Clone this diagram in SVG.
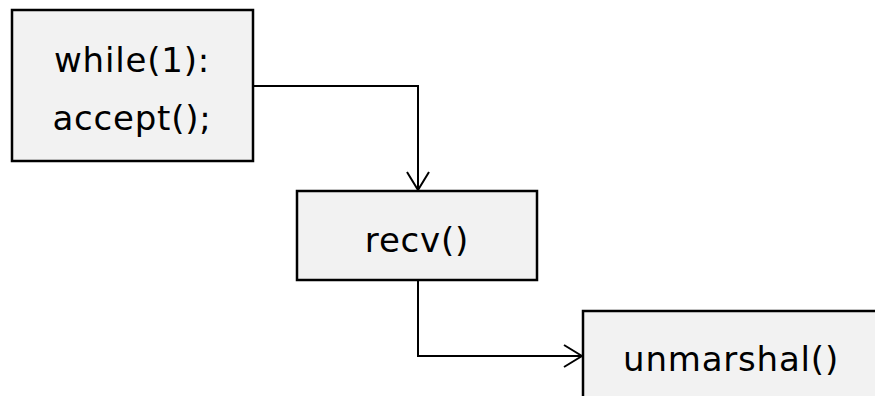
<svg xmlns="http://www.w3.org/2000/svg" width="875" height="396" viewBox="0 0 875 396">
  <defs>
    <style>
      .box { fill: #f2f2f2; stroke: #000; stroke-width: 2.5; }
      .lbl { font-family: "DejaVu Sans", "Liberation Sans", sans-serif; font-size: 34px; fill: #000; text-anchor: middle; letter-spacing: 0.8px; }
      .conn { fill: none; stroke: #000; stroke-width: 2; }
    </style>
    <marker id="arrow" viewBox="0 0 20 24" refX="19" refY="12" markerWidth="20" markerHeight="24" markerUnits="userSpaceOnUse" orient="auto">
      <path d="M1,1 L19,12 L1,23" fill="none" stroke="#000" stroke-width="2"/>
    </marker>
  </defs>
  <rect width="875" height="396" fill="#fff"/>
  <g id="connectors">
    <path class="conn" d="M253,86 H418 V190" marker-end="url(#arrow)"/>
    <path class="conn" d="M418,280 V356 H582" marker-end="url(#arrow)"/>
  </g>
  <g id="node-loop">
    <rect class="box" x="12" y="10" width="241" height="151"/>
    <text class="lbl" x="132" y="72">while(1):</text>
    <text class="lbl" x="132" y="130">accept();</text>
  </g>
  <g id="node-recv">
    <rect class="box" x="297" y="191" width="240" height="89"/>
    <text class="lbl" x="417" y="252">recv()</text>
  </g>
  <g id="node-unmarshal">
    <rect class="box" x="583" y="311" width="300" height="100"/>
    <text class="lbl" x="731" y="371">unmarshal()</text>
  </g>
</svg>
